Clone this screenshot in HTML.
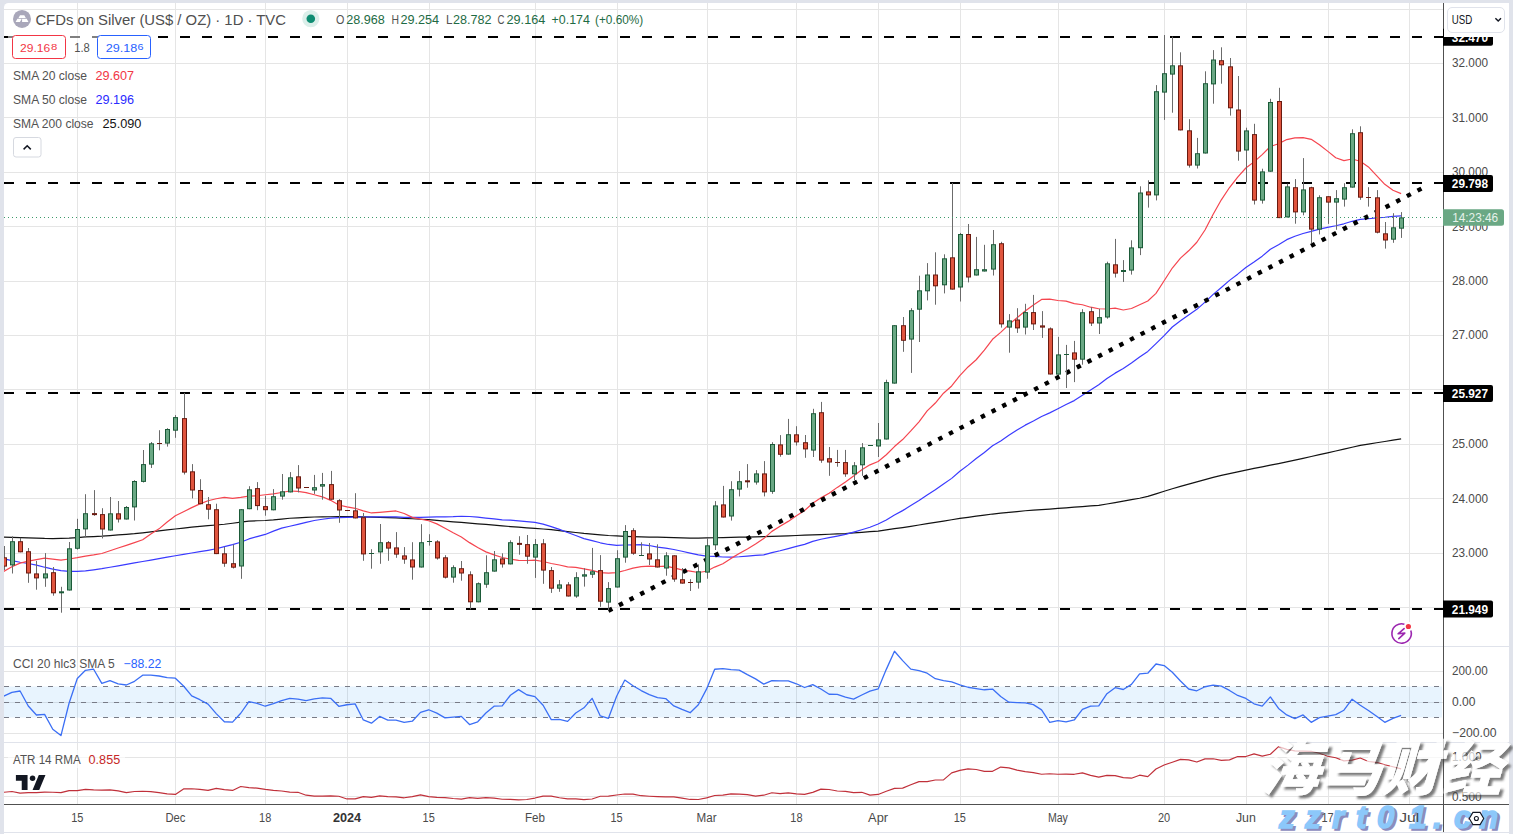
<!DOCTYPE html>
<html><head><meta charset="utf-8"><title>CFDs on Silver chart</title>
<style>html,body{margin:0;padding:0;background:#e0e3eb;}
#root{position:relative;width:1513px;height:834px;overflow:hidden;}</style></head>
<body><div id="root">
<svg width="1513" height="834" viewBox="0 0 1513 834" style="position:absolute;left:0;top:0" font-family="'Liberation Sans', Arial, sans-serif">
<defs><clipPath id="cmain"><rect x="4" y="3" width="1439" height="643"/></clipPath><clipPath id="ccci"><rect x="4" y="647" width="1439" height="95"/></clipPath><clipPath id="catr"><rect x="4" y="743" width="1439" height="61"/></clipPath><filter id="wsh" x="-20%" y="-20%" width="140%" height="140%"><feGaussianBlur in="SourceAlpha" stdDeviation="1.3"/><feOffset dx="2.5" dy="2.5" result="b"/><feFlood flood-color="#454545" flood-opacity="0.7"/><feComposite in2="b" operator="in" result="sh"/><feComposite in="sh" in2="SourceAlpha" operator="out" result="sh2"/><feColorMatrix in="SourceGraphic" type="matrix" values="1 0 0 0 0 0 1 0 0 0 0 0 1 0 0 0 0 0 0.7 0" result="src"/><feMerge><feMergeNode in="sh2"/><feMergeNode in="src"/></feMerge></filter></defs>
<rect x="0" y="0" width="1513" height="834" fill="#e0e3eb"/>
<path d="M4 832V7.5A4.5 4.5 0 0 1 8.5 3H1504.5A4.5 4.5 0 0 1 1509 7.5V832z" fill="#fff"/>
<rect x="4" y="833" width="1505" height="1" fill="#fff"/>
<g font-family="'Liberation Sans',sans-serif" font-size="31" font-weight="700" font-style="italic">
<text x="1281.5" y="830" fill="#8c8cbe" stroke="#8c8cbe" stroke-width="1.6">z</text><text x="1279" y="828" fill="#8cc8fa" stroke="#8cc8fa" stroke-width="1.6">z</text>
<text x="1307.5" y="830" fill="#8c8cbe" stroke="#8c8cbe" stroke-width="1.6">z</text><text x="1305" y="828" fill="#8cc8fa" stroke="#8cc8fa" stroke-width="1.6">z</text>
<text x="1334.5" y="830" fill="#8c8cbe" stroke="#8c8cbe" stroke-width="1.6">r</text><text x="1332" y="828" fill="#8cc8fa" stroke="#8cc8fa" stroke-width="1.6">r</text>
<text x="1358.5" y="830" fill="#8c8cbe" stroke="#8c8cbe" stroke-width="1.6">t</text><text x="1356" y="828" fill="#8cc8fa" stroke="#8cc8fa" stroke-width="1.6">t</text>
<text x="1379.5" y="830" fill="#8c8cbe" stroke="#8c8cbe" stroke-width="1.6">0</text><text x="1377" y="828" fill="#8cc8fa" stroke="#8cc8fa" stroke-width="1.6">0</text>
<text x="1411.5" y="830" fill="#8c8cbe" stroke="#8c8cbe" stroke-width="1.6">1</text><text x="1409" y="828" fill="#8cc8fa" stroke="#8cc8fa" stroke-width="1.6">1</text>
<text x="1435.5" y="830" fill="#8c8cbe" stroke="#8c8cbe" stroke-width="1.6">.</text><text x="1433" y="828" fill="#8cc8fa" stroke="#8cc8fa" stroke-width="1.6">.</text>
<text x="1456.5" y="830" fill="#8c8cbe" stroke="#8c8cbe" stroke-width="1.6">c</text><text x="1454" y="828" fill="#8cc8fa" stroke="#8cc8fa" stroke-width="1.6">c</text>
<text x="1481.5" y="830" fill="#8c8cbe" stroke="#8c8cbe" stroke-width="1.6">n</text><text x="1479" y="828" fill="#8cc8fa" stroke="#8cc8fa" stroke-width="1.6">n</text>
</g>
<rect x="77" y="3" width="1" height="801" fill="#e5e5e5"/>
<rect x="175" y="3" width="1" height="801" fill="#e5e5e5"/>
<rect x="265" y="3" width="1" height="801" fill="#e5e5e5"/>
<rect x="347" y="3" width="1" height="801" fill="#e5e5e5"/>
<rect x="429" y="3" width="1" height="801" fill="#e5e5e5"/>
<rect x="535" y="3" width="1" height="801" fill="#e5e5e5"/>
<rect x="617" y="3" width="1" height="801" fill="#e5e5e5"/>
<rect x="707" y="3" width="1" height="801" fill="#e5e5e5"/>
<rect x="796" y="3" width="1" height="801" fill="#e5e5e5"/>
<rect x="878" y="3" width="1" height="801" fill="#e5e5e5"/>
<rect x="960" y="3" width="1" height="801" fill="#e5e5e5"/>
<rect x="1058" y="3" width="1" height="801" fill="#e5e5e5"/>
<rect x="1164" y="3" width="1" height="801" fill="#e5e5e5"/>
<rect x="1246" y="3" width="1" height="801" fill="#e5e5e5"/>
<rect x="1328" y="3" width="1" height="801" fill="#e5e5e5"/>
<rect x="1409" y="3" width="1" height="801" fill="#e5e5e5"/>
<rect x="4" y="607" width="1439" height="1" fill="#e5e5e5"/>
<rect x="4" y="553" width="1439" height="1" fill="#e5e5e5"/>
<rect x="4" y="498" width="1439" height="1" fill="#e5e5e5"/>
<rect x="4" y="444" width="1439" height="1" fill="#e5e5e5"/>
<rect x="4" y="389" width="1439" height="1" fill="#e5e5e5"/>
<rect x="4" y="335" width="1439" height="1" fill="#e5e5e5"/>
<rect x="4" y="281" width="1439" height="1" fill="#e5e5e5"/>
<rect x="4" y="226" width="1439" height="1" fill="#e5e5e5"/>
<rect x="4" y="172" width="1439" height="1" fill="#e5e5e5"/>
<rect x="4" y="117" width="1439" height="1" fill="#e5e5e5"/>
<rect x="4" y="63" width="1439" height="1" fill="#e5e5e5"/>
<rect x="4" y="9" width="1439" height="1" fill="#e5e5e5"/>
<rect x="4" y="671" width="1439" height="1" fill="#e5e5e5"/>
<rect x="4" y="702" width="1439" height="1" fill="#e5e5e5"/>
<rect x="4" y="733" width="1439" height="1" fill="#e5e5e5"/>
<rect x="4" y="757" width="1439" height="1" fill="#e5e5e5"/>
<rect x="4" y="796" width="1439" height="1" fill="#e5e5e5"/>
<rect x="4" y="646" width="1505" height="1" fill="#e0e3eb"/>
<rect x="4" y="742" width="1505" height="1" fill="#e0e3eb"/>
<g clip-path="url(#cmain)">
<polyline points="3.74,537.10 11.92,537.37 20.09,537.65 28.26,537.93 36.43,538.20 44.60,538.47 52.77,538.53 60.95,538.41 69.12,538.21 77.29,537.55 85.46,536.94 93.63,536.58 101.81,536.16 109.98,535.54 118.15,534.93 126.32,534.31 134.49,533.69 142.66,532.88 150.84,531.91 159.01,530.94 167.18,529.97 175.35,529.00 183.52,528.03 191.70,527.17 199.87,526.44 208.04,525.71 216.21,524.98 224.38,524.24 232.55,523.25 240.73,522.20 248.90,521.14 257.07,520.76 265.24,520.49 273.41,519.87 281.58,519.06 289.76,518.26 297.93,517.79 306.10,517.41 314.27,517.02 322.44,516.88 330.62,516.74 338.79,516.61 346.96,516.52 355.13,516.71 363.30,516.89 371.47,517.09 379.65,517.31 387.82,517.53 395.99,517.82 404.16,518.29 412.33,518.77 420.51,519.25 428.68,519.72 436.85,520.39 445.02,521.09 453.19,521.79 461.36,522.47 469.54,523.14 477.71,523.81 485.88,524.47 494.05,525.14 502.22,525.83 510.40,526.53 518.57,527.22 526.74,527.92 534.91,528.46 543.08,528.99 551.25,529.68 559.43,530.64 567.60,531.58 575.77,532.51 583.94,533.43 592.11,534.15 600.29,534.87 608.46,535.50 616.63,535.89 624.80,536.28 632.97,536.66 641.14,536.95 649.32,537.06 657.49,537.18 665.66,537.43 673.83,537.70 682.00,537.96 690.17,538.19 698.35,538.07 706.52,537.95 714.69,537.76 722.86,537.54 731.03,537.35 739.21,537.21 747.38,537.07 755.55,536.87 763.72,536.60 771.89,536.33 780.06,536.06 788.24,535.79 796.41,535.52 804.58,535.22 812.75,534.90 820.92,534.58 829.10,534.26 837.27,533.93 845.44,533.53 853.61,532.92 861.78,532.30 869.95,531.68 878.13,531.04 886.30,529.88 894.47,528.71 902.64,527.55 910.81,526.33 918.99,525.01 927.16,523.70 935.33,522.38 943.50,521.06 951.67,519.75 959.84,518.43 968.02,517.29 976.19,516.20 984.36,515.12 992.53,514.03 1000.70,513.17 1008.88,512.36 1017.05,511.55 1025.22,510.74 1033.39,510.14 1041.56,509.58 1049.73,509.03 1057.91,508.47 1066.08,507.85 1074.25,507.21 1082.42,506.57 1090.59,505.93 1098.76,505.30 1106.94,503.99 1115.11,502.56 1123.28,501.13 1131.45,499.70 1139.62,498.27 1147.80,496.40 1155.97,493.84 1164.14,491.28 1172.31,488.72 1180.48,486.40 1188.65,484.15 1196.83,481.90 1205.00,479.65 1213.17,477.40 1221.34,475.30 1229.51,473.57 1237.69,471.84 1245.86,470.10 1254.03,468.44 1262.20,466.81 1270.37,465.19 1278.54,463.56 1286.72,461.92 1294.89,460.11 1303.06,458.31 1311.23,456.50 1319.40,454.69 1327.58,452.85 1335.75,450.99 1343.92,449.12 1352.09,447.25 1360.26,445.39 1368.43,444.08 1376.61,442.77 1384.78,441.47 1392.95,440.16 1401.12,438.90" fill="none" stroke="#131313" stroke-width="1.2" stroke-linejoin="round"/>
<polyline points="3.74,558.80 11.92,560.68 20.09,562.28 28.26,563.49 36.43,565.13 44.60,567.21 52.77,569.04 60.95,570.66 69.12,571.40 77.29,571.40 85.46,570.83 93.63,569.80 101.81,568.68 109.98,567.25 118.15,565.81 126.32,564.38 134.49,562.94 142.66,561.51 150.84,560.07 159.01,558.64 167.18,557.20 175.35,555.77 183.52,554.38 191.70,553.02 199.87,551.66 208.04,550.29 216.21,548.75 224.38,546.70 232.55,544.66 240.73,542.21 248.90,538.94 257.07,536.61 265.24,534.44 273.41,531.10 281.58,528.10 289.76,526.27 297.93,524.36 306.10,522.43 314.27,520.50 322.44,519.26 330.62,518.08 338.79,517.66 346.96,517.29 355.13,517.17 363.30,517.06 371.47,516.97 379.65,516.91 387.82,516.85 395.99,516.78 404.16,517.29 412.33,517.31 420.51,517.33 428.68,517.10 436.85,516.80 445.02,516.79 453.19,516.66 461.36,516.27 469.54,516.49 477.71,517.19 485.88,518.05 494.05,518.97 502.22,519.96 510.40,520.22 518.57,520.84 526.74,521.58 534.91,522.33 543.08,524.12 551.25,526.61 559.43,529.43 567.60,532.49 575.77,535.45 583.94,538.59 592.11,540.57 600.29,542.79 608.46,544.47 616.63,545.44 624.80,544.98 632.97,544.78 641.14,544.53 649.32,545.53 657.49,547.10 665.66,548.08 673.83,549.47 682.00,551.22 690.17,553.04 698.35,554.92 706.52,556.06 714.69,556.41 722.86,557.02 731.03,557.12 739.21,556.75 747.38,556.17 755.55,555.43 763.72,554.91 771.89,552.70 780.06,550.74 788.24,548.58 796.41,546.45 804.58,544.35 812.75,541.42 820.92,539.28 829.10,537.69 837.27,536.12 845.44,534.44 853.61,532.19 861.78,529.79 869.95,527.22 878.13,523.96 886.30,519.94 894.47,515.00 902.64,510.63 910.81,505.55 918.99,500.51 927.16,495.11 935.33,489.70 943.50,483.99 951.67,478.37 959.84,471.27 968.02,465.13 976.19,458.59 984.36,452.43 992.53,445.83 1000.70,440.89 1008.88,435.26 1017.05,430.07 1025.22,425.15 1033.39,421.01 1041.56,416.49 1049.73,412.88 1057.91,408.78 1066.08,404.51 1074.25,400.60 1082.42,395.25 1090.59,390.05 1098.76,384.74 1106.94,378.58 1115.11,373.14 1123.28,368.44 1131.45,363.04 1139.62,357.11 1147.80,351.39 1155.97,343.58 1164.14,335.58 1172.31,327.03 1180.48,320.76 1188.65,314.98 1196.83,309.36 1205.00,302.17 1213.17,294.38 1221.34,287.42 1229.51,280.37 1237.69,274.15 1245.86,267.51 1254.03,262.03 1262.20,256.16 1270.37,249.25 1278.54,244.71 1286.72,239.65 1294.89,236.26 1303.06,233.54 1311.23,231.32 1319.40,229.06 1327.58,227.30 1335.75,225.78 1343.92,223.80 1352.09,221.29 1360.26,219.46 1368.43,218.73 1376.61,217.83 1384.78,217.26 1392.95,216.42 1401.12,215.89" fill="none" stroke="#3a3aff" stroke-width="1.2" stroke-linejoin="round"/>
<polyline points="3.74,571.40 11.92,566.66 20.09,563.14 28.26,561.11 36.43,559.61 44.60,558.21 52.77,559.12 60.95,560.04 69.12,559.02 77.29,557.64 85.46,556.07 93.63,554.95 101.81,553.50 109.98,550.77 118.15,548.04 126.32,545.31 134.49,542.58 142.66,539.78 150.84,533.95 159.01,528.85 167.18,521.97 175.35,515.76 183.52,511.77 191.70,507.62 199.87,503.92 208.04,500.73 216.21,498.77 224.38,497.39 232.55,498.36 240.73,497.37 248.90,496.17 257.07,495.73 265.24,494.77 273.41,493.92 281.58,492.50 289.76,491.02 297.93,491.40 306.10,492.59 314.27,494.78 322.44,496.80 330.62,500.33 338.79,505.00 346.96,506.90 355.13,508.29 363.30,510.81 371.47,512.97 379.65,512.38 387.82,511.62 395.99,510.96 404.16,513.48 412.33,517.39 420.51,519.20 428.68,520.74 436.85,523.86 445.02,528.18 453.19,532.67 461.36,536.92 469.54,542.64 477.71,547.44 485.88,551.85 494.05,554.83 502.22,557.52 510.40,559.11 518.57,560.41 526.74,560.52 534.91,560.08 543.08,561.50 551.25,563.50 559.43,565.00 567.60,566.84 575.77,567.33 583.94,568.93 592.11,570.44 600.29,572.60 608.46,573.12 616.63,572.67 624.80,570.54 632.97,568.11 641.14,566.71 649.32,566.08 657.49,566.49 665.66,566.04 673.83,567.90 682.00,569.86 690.17,571.15 698.35,572.52 706.52,571.25 714.69,567.09 722.86,563.74 731.03,558.38 739.21,553.57 747.38,548.95 755.55,544.05 763.72,538.59 771.89,531.38 780.06,526.21 788.24,521.38 796.41,515.81 804.58,510.52 812.75,503.20 820.92,497.86 829.10,493.22 837.27,487.38 845.44,481.91 853.61,476.04 861.78,469.84 869.95,464.83 878.13,461.53 886.30,454.76 894.47,446.56 902.64,439.54 910.81,430.96 918.99,421.80 927.16,410.91 935.33,403.03 943.50,393.20 951.67,385.97 959.84,375.55 968.02,366.95 976.19,359.76 984.36,350.19 992.53,339.27 1000.70,332.35 1008.88,324.66 1017.05,317.82 1025.22,311.05 1033.39,305.02 1041.56,299.44 1049.73,299.05 1057.91,300.52 1066.08,301.19 1074.25,303.66 1082.42,304.76 1090.59,307.20 1098.76,308.75 1106.94,308.99 1115.11,308.20 1123.28,310.02 1131.45,308.51 1139.62,304.67 1147.80,300.98 1155.97,293.34 1164.14,280.77 1172.31,268.02 1180.48,258.12 1188.65,250.80 1196.83,242.24 1205.00,230.02 1213.17,214.26 1221.34,199.81 1229.51,187.52 1237.69,177.11 1245.86,168.02 1254.03,161.88 1262.20,154.59 1270.37,146.52 1278.54,143.75 1286.72,139.55 1294.89,137.80 1303.06,137.65 1311.23,139.36 1319.40,144.66 1327.58,151.12 1335.75,157.77 1343.92,160.61 1352.09,158.99 1360.26,161.22 1368.43,166.94 1376.61,175.60 1384.78,184.36 1392.95,190.31 1401.12,193.60" fill="none" stroke="#f5454f" stroke-width="1.2" stroke-linejoin="round"/>
<line x1="4" y1="37" x2="1443" y2="37" stroke="#000" stroke-width="2" stroke-dasharray="10 12"/>
<line x1="4" y1="183" x2="1443" y2="183" stroke="#000" stroke-width="2" stroke-dasharray="10 12"/>
<line x1="4" y1="393" x2="1443" y2="393" stroke="#000" stroke-width="2" stroke-dasharray="10 12"/>
<line x1="4" y1="609" x2="1443" y2="609" stroke="#000" stroke-width="2" stroke-dasharray="10 12"/>
<line x1="608.35" y1="610.81" x2="1421.45" y2="188.59" stroke="#000" stroke-width="4.4" stroke-dasharray="4.4 7.597"/>
<rect x="4" y="546.0" width="1" height="24.0" fill="#6b6b6b"/>
<rect x="2" y="557.3" width="5" height="9.3" fill="#6a1a10"/>
<rect x="3" y="558.3" width="3" height="7.3" fill="#e0553e"/>
<rect x="12" y="536.3" width="1" height="37.2" fill="#6b6b6b"/>
<rect x="10" y="541.2" width="5" height="24.2" fill="#1b5a38"/>
<rect x="11" y="542.2" width="3" height="22.2" fill="#6aa884"/>
<rect x="20" y="537.8" width="1" height="14.5" fill="#6b6b6b"/>
<rect x="18" y="541.2" width="5" height="11.1" fill="#6a1a10"/>
<rect x="19" y="542.2" width="3" height="9.1" fill="#e0553e"/>
<rect x="28" y="548.0" width="1" height="34.8" fill="#6b6b6b"/>
<rect x="26" y="551.2" width="5" height="22.3" fill="#6a1a10"/>
<rect x="27" y="552.2" width="3" height="20.3" fill="#e0553e"/>
<rect x="36" y="560.9" width="1" height="28.8" fill="#6b6b6b"/>
<rect x="34" y="573.4" width="5" height="5.0" fill="#6a1a10"/>
<rect x="35" y="574.4" width="3" height="3.0" fill="#e0553e"/>
<rect x="45" y="553.1" width="1" height="33.7" fill="#6b6b6b"/>
<rect x="43" y="573.4" width="5" height="5.0" fill="#1b5a38"/>
<rect x="44" y="574.4" width="3" height="3.0" fill="#6aa884"/>
<rect x="53" y="567.0" width="1" height="28.7" fill="#6b6b6b"/>
<rect x="51" y="572.2" width="5" height="21.1" fill="#6a1a10"/>
<rect x="52" y="573.2" width="3" height="19.1" fill="#e0553e"/>
<rect x="61" y="586.8" width="1" height="25.9" fill="#6b6b6b"/>
<rect x="59" y="591.3" width="5" height="2" fill="#1b5a38"/>
<rect x="69" y="542.0" width="1" height="48.5" fill="#6b6b6b"/>
<rect x="67" y="548.3" width="5" height="42.2" fill="#1b5a38"/>
<rect x="68" y="549.3" width="3" height="40.2" fill="#6aa884"/>
<rect x="77" y="518.8" width="1" height="30.8" fill="#6b6b6b"/>
<rect x="75" y="529.0" width="5" height="19.8" fill="#1b5a38"/>
<rect x="76" y="530.0" width="3" height="17.8" fill="#6aa884"/>
<rect x="85" y="494.2" width="1" height="43.2" fill="#6b6b6b"/>
<rect x="83" y="513.2" width="5" height="16.2" fill="#1b5a38"/>
<rect x="84" y="514.2" width="3" height="14.2" fill="#6aa884"/>
<rect x="94" y="490.1" width="1" height="25.7" fill="#6b6b6b"/>
<rect x="92" y="513.1" width="5" height="2" fill="#6a1a10"/>
<rect x="102" y="508.2" width="1" height="30.2" fill="#6b6b6b"/>
<rect x="100" y="514.1" width="5" height="15.4" fill="#6a1a10"/>
<rect x="101" y="515.1" width="3" height="13.4" fill="#e0553e"/>
<rect x="110" y="497.0" width="1" height="33.5" fill="#6b6b6b"/>
<rect x="108" y="513.3" width="5" height="17.2" fill="#1b5a38"/>
<rect x="109" y="514.3" width="3" height="15.2" fill="#6aa884"/>
<rect x="118" y="501.0" width="1" height="21.5" fill="#6b6b6b"/>
<rect x="116" y="513.3" width="5" height="6.2" fill="#6a1a10"/>
<rect x="117" y="514.3" width="3" height="4.2" fill="#e0553e"/>
<rect x="126" y="506.0" width="1" height="13.5" fill="#6b6b6b"/>
<rect x="124" y="507.0" width="5" height="12.5" fill="#1b5a38"/>
<rect x="125" y="508.0" width="3" height="10.5" fill="#6aa884"/>
<rect x="134" y="480.2" width="1" height="40.3" fill="#6b6b6b"/>
<rect x="132" y="481.0" width="5" height="26.4" fill="#1b5a38"/>
<rect x="133" y="482.0" width="3" height="24.4" fill="#6aa884"/>
<rect x="143" y="450.0" width="1" height="32.5" fill="#6b6b6b"/>
<rect x="141" y="464.1" width="5" height="17.8" fill="#1b5a38"/>
<rect x="142" y="465.1" width="3" height="15.8" fill="#6aa884"/>
<rect x="151" y="442.0" width="1" height="26.0" fill="#6b6b6b"/>
<rect x="149" y="443.3" width="5" height="21.3" fill="#1b5a38"/>
<rect x="150" y="444.3" width="3" height="19.3" fill="#6aa884"/>
<rect x="159" y="430.2" width="1" height="20.1" fill="#6b6b6b"/>
<rect x="157" y="443" width="5" height="1" fill="#6a1a10"/>
<rect x="167" y="428.2" width="1" height="18.4" fill="#6b6b6b"/>
<rect x="165" y="429.0" width="5" height="14.6" fill="#1b5a38"/>
<rect x="166" y="430.0" width="3" height="12.6" fill="#6aa884"/>
<rect x="175" y="415.1" width="1" height="22.7" fill="#6b6b6b"/>
<rect x="173" y="417.1" width="5" height="13.6" fill="#1b5a38"/>
<rect x="174" y="418.1" width="3" height="11.6" fill="#6aa884"/>
<rect x="184" y="392.9" width="1" height="81.6" fill="#6b6b6b"/>
<rect x="182" y="418.1" width="5" height="54.5" fill="#6a1a10"/>
<rect x="183" y="419.1" width="3" height="52.5" fill="#e0553e"/>
<rect x="192" y="464.1" width="1" height="34.3" fill="#6b6b6b"/>
<rect x="190" y="471.3" width="5" height="19.2" fill="#6a1a10"/>
<rect x="191" y="472.3" width="3" height="17.2" fill="#e0553e"/>
<rect x="200" y="479.2" width="1" height="25.0" fill="#6b6b6b"/>
<rect x="198" y="490.0" width="5" height="14.2" fill="#6a1a10"/>
<rect x="199" y="491.0" width="3" height="12.2" fill="#e0553e"/>
<rect x="208" y="497.0" width="1" height="22.3" fill="#6b6b6b"/>
<rect x="206" y="504.2" width="5" height="5.5" fill="#6a1a10"/>
<rect x="207" y="505.2" width="3" height="3.5" fill="#e0553e"/>
<rect x="216" y="503.7" width="1" height="50.4" fill="#6b6b6b"/>
<rect x="214" y="509.2" width="5" height="44.9" fill="#6a1a10"/>
<rect x="215" y="510.2" width="3" height="42.9" fill="#e0553e"/>
<rect x="224" y="546.9" width="1" height="19.9" fill="#6b6b6b"/>
<rect x="222" y="553.3" width="5" height="10.4" fill="#6a1a10"/>
<rect x="223" y="554.3" width="3" height="8.4" fill="#e0553e"/>
<rect x="233" y="544.5" width="1" height="24.0" fill="#6b6b6b"/>
<rect x="231" y="563.2" width="5" height="4.5" fill="#6a1a10"/>
<rect x="232" y="564.2" width="3" height="2.5" fill="#e0553e"/>
<rect x="241" y="509.2" width="1" height="69.6" fill="#6b6b6b"/>
<rect x="239" y="509.2" width="5" height="57.3" fill="#1b5a38"/>
<rect x="240" y="510.2" width="3" height="55.3" fill="#6aa884"/>
<rect x="249" y="486.2" width="1" height="23.0" fill="#6b6b6b"/>
<rect x="247" y="489.3" width="5" height="19.9" fill="#1b5a38"/>
<rect x="248" y="490.3" width="3" height="17.9" fill="#6aa884"/>
<rect x="257" y="482.1" width="1" height="28.1" fill="#6b6b6b"/>
<rect x="255" y="488.1" width="5" height="18.0" fill="#6a1a10"/>
<rect x="256" y="489.1" width="3" height="16.0" fill="#e0553e"/>
<rect x="265" y="495.8" width="1" height="19.9" fill="#6b6b6b"/>
<rect x="263" y="506.1" width="5" height="4.1" fill="#6a1a10"/>
<rect x="264" y="507.1" width="3" height="2.1" fill="#e0553e"/>
<rect x="273" y="489.1" width="1" height="21.2" fill="#6b6b6b"/>
<rect x="271" y="496.2" width="5" height="14.1" fill="#1b5a38"/>
<rect x="272" y="497.2" width="3" height="12.1" fill="#6aa884"/>
<rect x="282" y="474.0" width="1" height="25.7" fill="#6b6b6b"/>
<rect x="280" y="491.3" width="5" height="5.3" fill="#1b5a38"/>
<rect x="281" y="492.3" width="3" height="3.3" fill="#6aa884"/>
<rect x="290" y="472.1" width="1" height="20.3" fill="#6b6b6b"/>
<rect x="288" y="477.3" width="5" height="15.1" fill="#1b5a38"/>
<rect x="289" y="478.3" width="3" height="13.1" fill="#6aa884"/>
<rect x="298" y="465.1" width="1" height="27.3" fill="#6b6b6b"/>
<rect x="296" y="476.3" width="5" height="12.2" fill="#6a1a10"/>
<rect x="297" y="477.3" width="3" height="10.2" fill="#e0553e"/>
<rect x="306" y="487.2" width="1" height="0.7" fill="#6b6b6b"/>
<rect x="304" y="487" width="5" height="1" fill="#6a1a10"/>
<rect x="314" y="474.9" width="1" height="19.0" fill="#6b6b6b"/>
<rect x="312" y="487.2" width="5" height="3.3" fill="#1b5a38"/>
<rect x="313" y="488.2" width="3" height="1.3" fill="#6aa884"/>
<rect x="322" y="472.9" width="1" height="26.8" fill="#6b6b6b"/>
<rect x="320" y="484.1" width="5" height="2.5" fill="#1b5a38"/>
<rect x="321" y="485.1" width="3" height="0.5" fill="#6aa884"/>
<rect x="331" y="470.9" width="1" height="28.8" fill="#6b6b6b"/>
<rect x="329" y="484.1" width="5" height="15.6" fill="#6a1a10"/>
<rect x="330" y="485.1" width="3" height="13.6" fill="#e0553e"/>
<rect x="339" y="499.1" width="1" height="23.7" fill="#6b6b6b"/>
<rect x="337" y="500.2" width="5" height="10.3" fill="#6a1a10"/>
<rect x="338" y="501.2" width="3" height="8.3" fill="#e0553e"/>
<rect x="347" y="510.0" width="1" height="0.6" fill="#6b6b6b"/>
<rect x="345" y="510" width="5" height="1" fill="#6a1a10"/>
<rect x="355" y="493.2" width="1" height="25.2" fill="#6b6b6b"/>
<rect x="353" y="510.3" width="5" height="8.1" fill="#6a1a10"/>
<rect x="354" y="511.3" width="3" height="6.1" fill="#e0553e"/>
<rect x="363" y="513.0" width="1" height="47.8" fill="#6b6b6b"/>
<rect x="361" y="517.2" width="5" height="37.2" fill="#6a1a10"/>
<rect x="362" y="518.2" width="3" height="35.2" fill="#e0553e"/>
<rect x="371" y="549.2" width="1" height="19.5" fill="#6b6b6b"/>
<rect x="369" y="553" width="5" height="1" fill="#1b5a38"/>
<rect x="380" y="524.0" width="1" height="39.8" fill="#6b6b6b"/>
<rect x="378" y="542.2" width="5" height="10.2" fill="#1b5a38"/>
<rect x="379" y="543.2" width="3" height="8.2" fill="#6aa884"/>
<rect x="388" y="541.0" width="1" height="19.8" fill="#6b6b6b"/>
<rect x="386" y="542.2" width="5" height="6.4" fill="#6a1a10"/>
<rect x="387" y="543.2" width="3" height="4.4" fill="#e0553e"/>
<rect x="396" y="532.1" width="1" height="25.7" fill="#6b6b6b"/>
<rect x="394" y="547.4" width="5" height="7.2" fill="#6a1a10"/>
<rect x="395" y="548.4" width="3" height="5.2" fill="#e0553e"/>
<rect x="404" y="547.1" width="1" height="16.7" fill="#6b6b6b"/>
<rect x="402" y="555.4" width="5" height="4.2" fill="#6a1a10"/>
<rect x="403" y="556.4" width="3" height="2.2" fill="#e0553e"/>
<rect x="412" y="542.2" width="1" height="37.5" fill="#6b6b6b"/>
<rect x="410" y="559.4" width="5" height="8.1" fill="#6a1a10"/>
<rect x="411" y="560.4" width="3" height="6.1" fill="#e0553e"/>
<rect x="421" y="524.2" width="1" height="43.3" fill="#6b6b6b"/>
<rect x="419" y="542.2" width="5" height="25.3" fill="#1b5a38"/>
<rect x="420" y="543.2" width="3" height="23.3" fill="#6aa884"/>
<rect x="429" y="534.2" width="1" height="11.4" fill="#6b6b6b"/>
<rect x="427" y="541" width="5" height="1" fill="#1b5a38"/>
<rect x="437" y="540.2" width="1" height="19.4" fill="#6b6b6b"/>
<rect x="435" y="541.4" width="5" height="17.1" fill="#6a1a10"/>
<rect x="436" y="542.4" width="3" height="15.1" fill="#e0553e"/>
<rect x="445" y="555.2" width="1" height="23.3" fill="#6b6b6b"/>
<rect x="443" y="557.3" width="5" height="20.4" fill="#6a1a10"/>
<rect x="444" y="558.3" width="3" height="18.4" fill="#e0553e"/>
<rect x="453" y="565.3" width="1" height="17.4" fill="#6b6b6b"/>
<rect x="451" y="567.2" width="5" height="10.4" fill="#1b5a38"/>
<rect x="452" y="568.2" width="3" height="8.4" fill="#6aa884"/>
<rect x="461" y="561.0" width="1" height="19.7" fill="#6b6b6b"/>
<rect x="459" y="568.2" width="5" height="5.3" fill="#6a1a10"/>
<rect x="460" y="569.2" width="3" height="3.3" fill="#e0553e"/>
<rect x="470" y="571.3" width="1" height="38.1" fill="#6b6b6b"/>
<rect x="468" y="574.3" width="5" height="28.0" fill="#6a1a10"/>
<rect x="469" y="575.3" width="3" height="26.0" fill="#e0553e"/>
<rect x="478" y="582.4" width="1" height="19.9" fill="#6b6b6b"/>
<rect x="476" y="583.2" width="5" height="19.1" fill="#1b5a38"/>
<rect x="477" y="584.2" width="3" height="17.1" fill="#6aa884"/>
<rect x="486" y="555.3" width="1" height="32.5" fill="#6b6b6b"/>
<rect x="484" y="572.2" width="5" height="12.5" fill="#1b5a38"/>
<rect x="485" y="573.2" width="3" height="10.5" fill="#6aa884"/>
<rect x="494" y="551.0" width="1" height="20.6" fill="#6b6b6b"/>
<rect x="492" y="559.3" width="5" height="12.3" fill="#1b5a38"/>
<rect x="493" y="560.3" width="3" height="10.3" fill="#6aa884"/>
<rect x="502" y="553.3" width="1" height="14.3" fill="#6b6b6b"/>
<rect x="500" y="558.4" width="5" height="6.0" fill="#6a1a10"/>
<rect x="501" y="559.4" width="3" height="4.0" fill="#e0553e"/>
<rect x="510" y="540.3" width="1" height="24.1" fill="#6b6b6b"/>
<rect x="508" y="542.2" width="5" height="22.2" fill="#1b5a38"/>
<rect x="509" y="543.2" width="3" height="20.2" fill="#6aa884"/>
<rect x="519" y="536.2" width="1" height="18.5" fill="#6b6b6b"/>
<rect x="517" y="542.9" width="5" height="2" fill="#6a1a10"/>
<rect x="527" y="535.0" width="1" height="28.8" fill="#6b6b6b"/>
<rect x="525" y="544.1" width="5" height="12.6" fill="#6a1a10"/>
<rect x="526" y="545.1" width="3" height="10.6" fill="#e0553e"/>
<rect x="535" y="539.1" width="1" height="38.8" fill="#6b6b6b"/>
<rect x="533" y="544.1" width="5" height="13.5" fill="#1b5a38"/>
<rect x="534" y="545.1" width="3" height="11.5" fill="#6aa884"/>
<rect x="543" y="539.1" width="1" height="44.7" fill="#6b6b6b"/>
<rect x="541" y="543.3" width="5" height="27.3" fill="#6a1a10"/>
<rect x="542" y="544.3" width="3" height="25.3" fill="#e0553e"/>
<rect x="551" y="567.0" width="1" height="25.9" fill="#6b6b6b"/>
<rect x="549" y="570.1" width="5" height="18.6" fill="#6a1a10"/>
<rect x="550" y="571.1" width="3" height="16.6" fill="#e0553e"/>
<rect x="559" y="580.0" width="1" height="11.8" fill="#6b6b6b"/>
<rect x="557" y="584.4" width="5" height="4.3" fill="#1b5a38"/>
<rect x="558" y="585.4" width="3" height="2.3" fill="#6aa884"/>
<rect x="568" y="582.1" width="1" height="14.4" fill="#6b6b6b"/>
<rect x="566" y="584.4" width="5" height="12.1" fill="#6a1a10"/>
<rect x="567" y="585.4" width="3" height="10.1" fill="#e0553e"/>
<rect x="576" y="572.2" width="1" height="25.6" fill="#6b6b6b"/>
<rect x="574" y="577.2" width="5" height="19.3" fill="#1b5a38"/>
<rect x="575" y="578.2" width="3" height="17.3" fill="#6aa884"/>
<rect x="584" y="568.2" width="1" height="18.4" fill="#6b6b6b"/>
<rect x="582" y="574.3" width="5" height="2.3" fill="#1b5a38"/>
<rect x="583" y="575.3" width="3" height="0.3" fill="#6aa884"/>
<rect x="592" y="547.9" width="1" height="30.0" fill="#6b6b6b"/>
<rect x="590" y="571.3" width="5" height="3.4" fill="#1b5a38"/>
<rect x="591" y="572.3" width="3" height="1.4" fill="#6aa884"/>
<rect x="600" y="555.1" width="1" height="51.7" fill="#6b6b6b"/>
<rect x="598" y="570.1" width="5" height="31.6" fill="#6a1a10"/>
<rect x="599" y="571.1" width="3" height="29.6" fill="#e0553e"/>
<rect x="608" y="582.1" width="1" height="27.9" fill="#6b6b6b"/>
<rect x="606" y="588.1" width="5" height="14.5" fill="#1b5a38"/>
<rect x="607" y="589.1" width="3" height="12.5" fill="#6aa884"/>
<rect x="617" y="550.2" width="1" height="37.3" fill="#6b6b6b"/>
<rect x="615" y="558.2" width="5" height="29.3" fill="#1b5a38"/>
<rect x="616" y="559.2" width="3" height="27.3" fill="#6aa884"/>
<rect x="625" y="525.1" width="1" height="37.6" fill="#6b6b6b"/>
<rect x="623" y="531.0" width="5" height="26.6" fill="#1b5a38"/>
<rect x="624" y="532.0" width="3" height="24.6" fill="#6aa884"/>
<rect x="633" y="528.2" width="1" height="26.6" fill="#6b6b6b"/>
<rect x="631" y="530.2" width="5" height="23.5" fill="#6a1a10"/>
<rect x="632" y="531.2" width="3" height="21.5" fill="#e0553e"/>
<rect x="641" y="542.3" width="1" height="13.5" fill="#6b6b6b"/>
<rect x="639" y="555" width="5" height="1" fill="#1b5a38"/>
<rect x="649" y="543.0" width="1" height="22.0" fill="#6b6b6b"/>
<rect x="647" y="553.4" width="5" height="6.1" fill="#6a1a10"/>
<rect x="648" y="554.4" width="3" height="4.1" fill="#e0553e"/>
<rect x="657" y="544.3" width="1" height="23.2" fill="#6b6b6b"/>
<rect x="655" y="559.3" width="5" height="8.2" fill="#6a1a10"/>
<rect x="656" y="560.3" width="3" height="6.2" fill="#e0553e"/>
<rect x="666" y="552.2" width="1" height="23.5" fill="#6b6b6b"/>
<rect x="664" y="555.3" width="5" height="13.2" fill="#1b5a38"/>
<rect x="665" y="556.3" width="3" height="11.2" fill="#6aa884"/>
<rect x="674" y="555.3" width="1" height="26.5" fill="#6b6b6b"/>
<rect x="672" y="555.3" width="5" height="24.2" fill="#6a1a10"/>
<rect x="673" y="556.3" width="3" height="22.2" fill="#e0553e"/>
<rect x="682" y="568.0" width="1" height="15.6" fill="#6b6b6b"/>
<rect x="680" y="579.2" width="5" height="4.4" fill="#6a1a10"/>
<rect x="681" y="580.2" width="3" height="2.4" fill="#e0553e"/>
<rect x="690" y="579.2" width="1" height="11.8" fill="#6b6b6b"/>
<rect x="688" y="582" width="5" height="1" fill="#6a1a10"/>
<rect x="698" y="564.4" width="1" height="24.2" fill="#6b6b6b"/>
<rect x="696" y="571.3" width="5" height="11.3" fill="#1b5a38"/>
<rect x="697" y="572.3" width="3" height="9.3" fill="#6aa884"/>
<rect x="707" y="538.2" width="1" height="40.5" fill="#6b6b6b"/>
<rect x="705" y="545.3" width="5" height="27.3" fill="#1b5a38"/>
<rect x="706" y="546.3" width="3" height="25.3" fill="#6aa884"/>
<rect x="715" y="501.1" width="1" height="48.9" fill="#6b6b6b"/>
<rect x="713" y="505.4" width="5" height="39.9" fill="#1b5a38"/>
<rect x="714" y="506.4" width="3" height="37.9" fill="#6aa884"/>
<rect x="723" y="485.9" width="1" height="31.6" fill="#6b6b6b"/>
<rect x="721" y="504.4" width="5" height="13.1" fill="#6a1a10"/>
<rect x="722" y="505.4" width="3" height="11.1" fill="#e0553e"/>
<rect x="731" y="481.2" width="1" height="39.4" fill="#6b6b6b"/>
<rect x="729" y="489.2" width="5" height="27.3" fill="#1b5a38"/>
<rect x="730" y="490.2" width="3" height="25.3" fill="#6aa884"/>
<rect x="739" y="471.0" width="1" height="25.4" fill="#6b6b6b"/>
<rect x="737" y="481.2" width="5" height="8.4" fill="#1b5a38"/>
<rect x="738" y="482.2" width="3" height="6.4" fill="#6aa884"/>
<rect x="747" y="464.1" width="1" height="23.6" fill="#6b6b6b"/>
<rect x="745" y="480.3" width="5" height="2" fill="#6a1a10"/>
<rect x="756" y="470.1" width="1" height="14.5" fill="#6b6b6b"/>
<rect x="754" y="473.4" width="5" height="9.1" fill="#1b5a38"/>
<rect x="755" y="474.4" width="3" height="7.1" fill="#6aa884"/>
<rect x="764" y="461.1" width="1" height="35.3" fill="#6b6b6b"/>
<rect x="762" y="473.4" width="5" height="19.0" fill="#6a1a10"/>
<rect x="763" y="474.4" width="3" height="17.0" fill="#e0553e"/>
<rect x="772" y="442.2" width="1" height="51.6" fill="#6b6b6b"/>
<rect x="770" y="444.0" width="5" height="47.8" fill="#1b5a38"/>
<rect x="771" y="445.0" width="3" height="45.8" fill="#6aa884"/>
<rect x="780" y="435.1" width="1" height="21.6" fill="#6b6b6b"/>
<rect x="778" y="444.4" width="5" height="10.4" fill="#6a1a10"/>
<rect x="779" y="445.4" width="3" height="8.4" fill="#e0553e"/>
<rect x="788" y="418.9" width="1" height="35.7" fill="#6b6b6b"/>
<rect x="786" y="434.2" width="5" height="20.4" fill="#1b5a38"/>
<rect x="787" y="435.2" width="3" height="18.4" fill="#6aa884"/>
<rect x="796" y="426.2" width="1" height="19.3" fill="#6b6b6b"/>
<rect x="794" y="434.3" width="5" height="8.1" fill="#6a1a10"/>
<rect x="795" y="435.3" width="3" height="6.1" fill="#e0553e"/>
<rect x="805" y="435.0" width="1" height="22.8" fill="#6b6b6b"/>
<rect x="803" y="442.2" width="5" height="7.2" fill="#6a1a10"/>
<rect x="804" y="443.2" width="3" height="5.2" fill="#e0553e"/>
<rect x="813" y="408.8" width="1" height="48.2" fill="#6b6b6b"/>
<rect x="811" y="413.2" width="5" height="37.4" fill="#1b5a38"/>
<rect x="812" y="414.2" width="3" height="35.4" fill="#6aa884"/>
<rect x="821" y="401.9" width="1" height="60.9" fill="#6b6b6b"/>
<rect x="819" y="412.2" width="5" height="48.4" fill="#6a1a10"/>
<rect x="820" y="413.2" width="3" height="46.4" fill="#e0553e"/>
<rect x="829" y="447.0" width="1" height="28.8" fill="#6b6b6b"/>
<rect x="827" y="458.2" width="5" height="4.3" fill="#6a1a10"/>
<rect x="828" y="459.2" width="3" height="2.3" fill="#e0553e"/>
<rect x="837" y="449.9" width="1" height="16.8" fill="#6b6b6b"/>
<rect x="835" y="462" width="5" height="1" fill="#6a1a10"/>
<rect x="845" y="449.9" width="1" height="26.9" fill="#6b6b6b"/>
<rect x="843" y="462.1" width="5" height="12.2" fill="#6a1a10"/>
<rect x="844" y="463.1" width="3" height="10.2" fill="#e0553e"/>
<rect x="854" y="462.1" width="1" height="18.0" fill="#6b6b6b"/>
<rect x="852" y="465.3" width="5" height="9.0" fill="#1b5a38"/>
<rect x="853" y="466.3" width="3" height="7.0" fill="#6aa884"/>
<rect x="862" y="443.1" width="1" height="32.7" fill="#6b6b6b"/>
<rect x="860" y="447.3" width="5" height="18.0" fill="#1b5a38"/>
<rect x="861" y="448.3" width="3" height="16.0" fill="#6aa884"/>
<rect x="870" y="445.0" width="1" height="0.7" fill="#6b6b6b"/>
<rect x="868" y="445" width="5" height="1" fill="#1b5a38"/>
<rect x="878" y="423.0" width="1" height="34.0" fill="#6b6b6b"/>
<rect x="876" y="439.4" width="5" height="7.1" fill="#1b5a38"/>
<rect x="877" y="440.4" width="3" height="5.1" fill="#6aa884"/>
<rect x="886" y="379.7" width="1" height="59.8" fill="#6b6b6b"/>
<rect x="884" y="382.1" width="5" height="57.4" fill="#1b5a38"/>
<rect x="885" y="383.1" width="3" height="55.4" fill="#6aa884"/>
<rect x="894" y="325.2" width="1" height="58.4" fill="#6b6b6b"/>
<rect x="892" y="325.2" width="5" height="58.4" fill="#1b5a38"/>
<rect x="893" y="326.2" width="3" height="56.4" fill="#6aa884"/>
<rect x="903" y="317.0" width="1" height="34.8" fill="#6b6b6b"/>
<rect x="901" y="325.2" width="5" height="15.6" fill="#6a1a10"/>
<rect x="902" y="326.2" width="3" height="13.6" fill="#e0553e"/>
<rect x="911" y="308.2" width="1" height="64.7" fill="#6b6b6b"/>
<rect x="909" y="310.2" width="5" height="29.4" fill="#1b5a38"/>
<rect x="910" y="311.2" width="3" height="27.4" fill="#6aa884"/>
<rect x="919" y="275.7" width="1" height="66.3" fill="#6b6b6b"/>
<rect x="917" y="290.3" width="5" height="19.4" fill="#1b5a38"/>
<rect x="918" y="291.3" width="3" height="17.4" fill="#6aa884"/>
<rect x="927" y="263.1" width="1" height="37.3" fill="#6b6b6b"/>
<rect x="925" y="274.5" width="5" height="16.8" fill="#1b5a38"/>
<rect x="926" y="275.5" width="3" height="14.8" fill="#6aa884"/>
<rect x="935" y="252.3" width="1" height="52.4" fill="#6b6b6b"/>
<rect x="933" y="274.5" width="5" height="11.8" fill="#6a1a10"/>
<rect x="934" y="275.5" width="3" height="9.8" fill="#e0553e"/>
<rect x="944" y="254.3" width="1" height="39.1" fill="#6b6b6b"/>
<rect x="942" y="258.3" width="5" height="27.0" fill="#1b5a38"/>
<rect x="943" y="259.3" width="3" height="25.0" fill="#6aa884"/>
<rect x="952" y="183.0" width="1" height="106.6" fill="#6b6b6b"/>
<rect x="950" y="257.3" width="5" height="32.3" fill="#6a1a10"/>
<rect x="951" y="258.3" width="3" height="30.3" fill="#e0553e"/>
<rect x="960" y="232.9" width="1" height="68.6" fill="#6b6b6b"/>
<rect x="958" y="234.0" width="5" height="53.5" fill="#1b5a38"/>
<rect x="959" y="235.0" width="3" height="51.5" fill="#6aa884"/>
<rect x="968" y="224.0" width="1" height="58.4" fill="#6b6b6b"/>
<rect x="966" y="234.0" width="5" height="43.5" fill="#6a1a10"/>
<rect x="967" y="235.0" width="3" height="41.5" fill="#e0553e"/>
<rect x="976" y="236.9" width="1" height="38.6" fill="#6b6b6b"/>
<rect x="974" y="269.2" width="5" height="6.3" fill="#1b5a38"/>
<rect x="975" y="270.2" width="3" height="4.3" fill="#6aa884"/>
<rect x="984" y="244.8" width="1" height="26.7" fill="#6b6b6b"/>
<rect x="982" y="269.2" width="5" height="2.3" fill="#1b5a38"/>
<rect x="983" y="270.2" width="3" height="0.3" fill="#6aa884"/>
<rect x="993" y="230.0" width="1" height="45.5" fill="#6b6b6b"/>
<rect x="991" y="244.2" width="5" height="25.4" fill="#1b5a38"/>
<rect x="992" y="245.2" width="3" height="23.4" fill="#6aa884"/>
<rect x="1001" y="241.8" width="1" height="85.8" fill="#6b6b6b"/>
<rect x="999" y="243.2" width="5" height="81.2" fill="#6a1a10"/>
<rect x="1000" y="244.2" width="3" height="79.2" fill="#e0553e"/>
<rect x="1009" y="314.1" width="1" height="38.6" fill="#6b6b6b"/>
<rect x="1007" y="320.4" width="5" height="7.2" fill="#1b5a38"/>
<rect x="1008" y="321.4" width="3" height="5.2" fill="#6aa884"/>
<rect x="1017" y="308.2" width="1" height="24.7" fill="#6b6b6b"/>
<rect x="1015" y="319.5" width="5" height="8.9" fill="#6a1a10"/>
<rect x="1016" y="320.5" width="3" height="6.9" fill="#e0553e"/>
<rect x="1025" y="303.8" width="1" height="30.7" fill="#6b6b6b"/>
<rect x="1023" y="312.1" width="5" height="15.5" fill="#1b5a38"/>
<rect x="1024" y="313.1" width="3" height="13.5" fill="#6aa884"/>
<rect x="1033" y="294.9" width="1" height="35.1" fill="#6b6b6b"/>
<rect x="1031" y="312.1" width="5" height="12.3" fill="#6a1a10"/>
<rect x="1032" y="313.1" width="3" height="10.3" fill="#e0553e"/>
<rect x="1042" y="311.1" width="1" height="26.8" fill="#6b6b6b"/>
<rect x="1040" y="325.4" width="5" height="2.2" fill="#6a1a10"/>
<rect x="1041" y="326.4" width="3" height="0.2" fill="#e0553e"/>
<rect x="1050" y="327.4" width="1" height="47.1" fill="#6b6b6b"/>
<rect x="1048" y="328.4" width="5" height="46.1" fill="#6a1a10"/>
<rect x="1049" y="329.4" width="3" height="44.1" fill="#e0553e"/>
<rect x="1058" y="336.9" width="1" height="37.7" fill="#6b6b6b"/>
<rect x="1056" y="354.4" width="5" height="20.2" fill="#1b5a38"/>
<rect x="1057" y="355.4" width="3" height="18.2" fill="#6aa884"/>
<rect x="1066" y="344.9" width="1" height="43.1" fill="#6b6b6b"/>
<rect x="1064" y="354" width="5" height="1" fill="#1b5a38"/>
<rect x="1074" y="340.9" width="1" height="41.2" fill="#6b6b6b"/>
<rect x="1072" y="352.4" width="5" height="7.3" fill="#6a1a10"/>
<rect x="1073" y="353.4" width="3" height="5.3" fill="#e0553e"/>
<rect x="1082" y="309.2" width="1" height="55.5" fill="#6b6b6b"/>
<rect x="1080" y="312.2" width="5" height="47.5" fill="#1b5a38"/>
<rect x="1081" y="313.2" width="3" height="45.5" fill="#6aa884"/>
<rect x="1091" y="307.2" width="1" height="18.8" fill="#6b6b6b"/>
<rect x="1089" y="311.2" width="5" height="12.3" fill="#6a1a10"/>
<rect x="1090" y="312.2" width="3" height="10.3" fill="#e0553e"/>
<rect x="1099" y="308.8" width="1" height="25.2" fill="#6b6b6b"/>
<rect x="1097" y="317.1" width="5" height="6.4" fill="#1b5a38"/>
<rect x="1098" y="318.1" width="3" height="4.4" fill="#6aa884"/>
<rect x="1107" y="261.7" width="1" height="57.0" fill="#6b6b6b"/>
<rect x="1105" y="263.3" width="5" height="54.2" fill="#1b5a38"/>
<rect x="1106" y="264.3" width="3" height="52.2" fill="#6aa884"/>
<rect x="1115" y="238.9" width="1" height="38.6" fill="#6b6b6b"/>
<rect x="1113" y="264.3" width="5" height="9.3" fill="#6a1a10"/>
<rect x="1114" y="265.3" width="3" height="7.3" fill="#e0553e"/>
<rect x="1123" y="260.1" width="1" height="21.8" fill="#6b6b6b"/>
<rect x="1121" y="270.0" width="5" height="2" fill="#1b5a38"/>
<rect x="1131" y="240.3" width="1" height="34.3" fill="#6b6b6b"/>
<rect x="1129" y="247.4" width="5" height="23.2" fill="#1b5a38"/>
<rect x="1130" y="248.4" width="3" height="21.2" fill="#6aa884"/>
<rect x="1140" y="186.3" width="1" height="68.8" fill="#6b6b6b"/>
<rect x="1138" y="192.5" width="5" height="55.7" fill="#1b5a38"/>
<rect x="1139" y="193.5" width="3" height="53.7" fill="#6aa884"/>
<rect x="1148" y="180.3" width="1" height="27.3" fill="#6b6b6b"/>
<rect x="1146" y="191.4" width="5" height="4.0" fill="#6a1a10"/>
<rect x="1147" y="192.4" width="3" height="2.0" fill="#e0553e"/>
<rect x="1156" y="85.1" width="1" height="115.3" fill="#6b6b6b"/>
<rect x="1154" y="91.2" width="5" height="104.2" fill="#1b5a38"/>
<rect x="1155" y="92.2" width="3" height="102.2" fill="#6aa884"/>
<rect x="1164" y="35.0" width="1" height="84.9" fill="#6b6b6b"/>
<rect x="1162" y="73.2" width="5" height="19.4" fill="#1b5a38"/>
<rect x="1163" y="74.2" width="3" height="17.4" fill="#6aa884"/>
<rect x="1172" y="36.5" width="1" height="76.2" fill="#6b6b6b"/>
<rect x="1170" y="65.3" width="5" height="9.3" fill="#1b5a38"/>
<rect x="1171" y="66.3" width="3" height="7.3" fill="#6aa884"/>
<rect x="1180" y="52.3" width="1" height="78.1" fill="#6b6b6b"/>
<rect x="1178" y="65.3" width="5" height="65.1" fill="#6a1a10"/>
<rect x="1179" y="66.3" width="3" height="63.1" fill="#e0553e"/>
<rect x="1189" y="119.2" width="1" height="48.4" fill="#6b6b6b"/>
<rect x="1187" y="130.3" width="5" height="35.3" fill="#6a1a10"/>
<rect x="1188" y="131.3" width="3" height="33.3" fill="#e0553e"/>
<rect x="1197" y="137.9" width="1" height="30.6" fill="#6b6b6b"/>
<rect x="1195" y="153.2" width="5" height="12.4" fill="#1b5a38"/>
<rect x="1196" y="154.2" width="3" height="10.4" fill="#6aa884"/>
<rect x="1205" y="71.3" width="1" height="82.2" fill="#6b6b6b"/>
<rect x="1203" y="83.2" width="5" height="70.3" fill="#1b5a38"/>
<rect x="1204" y="84.2" width="3" height="68.3" fill="#6aa884"/>
<rect x="1213" y="50.1" width="1" height="53.6" fill="#6b6b6b"/>
<rect x="1211" y="59.5" width="5" height="24.9" fill="#1b5a38"/>
<rect x="1212" y="60.5" width="3" height="22.9" fill="#6aa884"/>
<rect x="1221" y="47.3" width="1" height="36.4" fill="#6b6b6b"/>
<rect x="1219" y="60.2" width="5" height="5.1" fill="#6a1a10"/>
<rect x="1220" y="61.2" width="3" height="3.1" fill="#e0553e"/>
<rect x="1230" y="58.0" width="1" height="57.6" fill="#6b6b6b"/>
<rect x="1228" y="66.3" width="5" height="42.0" fill="#6a1a10"/>
<rect x="1229" y="67.3" width="3" height="40.0" fill="#e0553e"/>
<rect x="1238" y="76.0" width="1" height="84.7" fill="#6b6b6b"/>
<rect x="1236" y="109.5" width="5" height="42.1" fill="#6a1a10"/>
<rect x="1237" y="110.5" width="3" height="40.1" fill="#e0553e"/>
<rect x="1246" y="127.7" width="1" height="54.7" fill="#6b6b6b"/>
<rect x="1244" y="130.4" width="5" height="20.1" fill="#1b5a38"/>
<rect x="1245" y="131.4" width="3" height="18.1" fill="#6aa884"/>
<rect x="1254" y="123.8" width="1" height="80.7" fill="#6b6b6b"/>
<rect x="1252" y="134.1" width="5" height="66.5" fill="#6a1a10"/>
<rect x="1253" y="135.1" width="3" height="64.5" fill="#e0553e"/>
<rect x="1262" y="168.7" width="1" height="34.9" fill="#6b6b6b"/>
<rect x="1260" y="171.4" width="5" height="29.2" fill="#1b5a38"/>
<rect x="1261" y="172.4" width="3" height="27.2" fill="#6aa884"/>
<rect x="1270" y="98.8" width="1" height="72.9" fill="#6b6b6b"/>
<rect x="1268" y="102.0" width="5" height="69.7" fill="#1b5a38"/>
<rect x="1269" y="103.0" width="3" height="67.7" fill="#6aa884"/>
<rect x="1279" y="87.8" width="1" height="130.3" fill="#6b6b6b"/>
<rect x="1277" y="101.0" width="5" height="117.1" fill="#6a1a10"/>
<rect x="1278" y="102.0" width="3" height="115.1" fill="#e0553e"/>
<rect x="1287" y="183.7" width="1" height="33.7" fill="#6b6b6b"/>
<rect x="1285" y="186.4" width="5" height="31.0" fill="#1b5a38"/>
<rect x="1286" y="187.4" width="3" height="29.0" fill="#6aa884"/>
<rect x="1295" y="179.1" width="1" height="44.6" fill="#6b6b6b"/>
<rect x="1293" y="187.2" width="5" height="25.2" fill="#6a1a10"/>
<rect x="1294" y="188.2" width="3" height="23.2" fill="#e0553e"/>
<rect x="1303" y="158.1" width="1" height="57.2" fill="#6b6b6b"/>
<rect x="1301" y="189.4" width="5" height="23.0" fill="#1b5a38"/>
<rect x="1302" y="190.4" width="3" height="21.0" fill="#6aa884"/>
<rect x="1311" y="186.7" width="1" height="56.3" fill="#6b6b6b"/>
<rect x="1309" y="187.2" width="5" height="42.4" fill="#6a1a10"/>
<rect x="1310" y="188.2" width="3" height="40.4" fill="#e0553e"/>
<rect x="1319" y="195.3" width="1" height="39.1" fill="#6b6b6b"/>
<rect x="1317" y="197.2" width="5" height="32.4" fill="#1b5a38"/>
<rect x="1318" y="198.2" width="3" height="30.4" fill="#6aa884"/>
<rect x="1328" y="196.2" width="1" height="27.7" fill="#6b6b6b"/>
<rect x="1326" y="196.2" width="5" height="6.4" fill="#6a1a10"/>
<rect x="1327" y="197.2" width="3" height="4.4" fill="#e0553e"/>
<rect x="1336" y="190.1" width="1" height="39.7" fill="#6b6b6b"/>
<rect x="1334" y="198.2" width="5" height="4.4" fill="#1b5a38"/>
<rect x="1335" y="199.2" width="3" height="2.4" fill="#6aa884"/>
<rect x="1344" y="183.2" width="1" height="23.4" fill="#6b6b6b"/>
<rect x="1342" y="187.2" width="5" height="12.4" fill="#1b5a38"/>
<rect x="1343" y="188.2" width="3" height="10.4" fill="#6aa884"/>
<rect x="1352" y="129.3" width="1" height="58.3" fill="#6b6b6b"/>
<rect x="1350" y="133.2" width="5" height="54.4" fill="#1b5a38"/>
<rect x="1351" y="134.2" width="3" height="52.4" fill="#6aa884"/>
<rect x="1360" y="126.3" width="1" height="73.5" fill="#6b6b6b"/>
<rect x="1358" y="132.2" width="5" height="65.5" fill="#6a1a10"/>
<rect x="1359" y="133.2" width="3" height="63.5" fill="#e0553e"/>
<rect x="1368" y="187.2" width="1" height="19.4" fill="#6b6b6b"/>
<rect x="1366" y="197" width="5" height="1" fill="#6a1a10"/>
<rect x="1377" y="190.1" width="1" height="43.3" fill="#6b6b6b"/>
<rect x="1375" y="197.3" width="5" height="35.4" fill="#6a1a10"/>
<rect x="1376" y="198.3" width="3" height="33.4" fill="#e0553e"/>
<rect x="1385" y="222.0" width="1" height="26.6" fill="#6b6b6b"/>
<rect x="1383" y="233.3" width="5" height="7.2" fill="#6a1a10"/>
<rect x="1384" y="234.3" width="3" height="5.2" fill="#e0553e"/>
<rect x="1393" y="213.2" width="1" height="29.6" fill="#6b6b6b"/>
<rect x="1391" y="227.3" width="5" height="12.4" fill="#1b5a38"/>
<rect x="1392" y="228.3" width="3" height="10.4" fill="#6aa884"/>
<rect x="1401" y="212.1" width="1" height="25.8" fill="#6b6b6b"/>
<rect x="1399" y="217.4" width="5" height="11.3" fill="#1b5a38"/>
<rect x="1400" y="218.4" width="3" height="9.3" fill="#6aa884"/>
<line x1="4" y1="217.5" x2="1443" y2="217.5" stroke="#3d9a6a" stroke-width="1" stroke-dasharray="1 3"/>
</g>
<g clip-path="url(#ccci)">
<rect x="4" y="686.5" width="1438" height="31" fill="#2196f3" fill-opacity="0.1"/>
<line x1="4" y1="686.5" x2="1443" y2="686.5" stroke="#787b86" stroke-width="1" stroke-dasharray="5 6"/>
<line x1="4" y1="702.5" x2="1443" y2="702.5" stroke="#787b86" stroke-width="1" stroke-dasharray="5 6"/>
<line x1="4" y1="717.5" x2="1443" y2="717.5" stroke="#787b86" stroke-width="1" stroke-dasharray="5 6"/>
<polyline points="3.74,696.20 11.92,692.30 20.09,691.00 28.26,706.00 36.43,715.00 44.60,714.40 52.77,729.30 60.95,735.60 69.12,703.00 77.29,678.50 85.46,670.30 93.63,669.20 101.81,683.40 109.98,680.60 118.15,683.80 126.32,685.00 134.49,681.30 142.66,675.20 150.84,675.20 159.01,675.99 167.18,677.70 175.35,678.20 183.52,686.00 191.70,695.96 199.87,699.70 208.04,704.07 216.21,713.59 224.38,721.74 232.55,722.09 240.73,713.25 248.90,701.66 257.07,703.28 265.24,706.24 273.41,703.60 281.58,700.53 289.76,698.33 297.93,699.05 306.10,700.60 314.27,698.97 322.44,697.90 330.62,698.32 338.79,706.32 346.96,704.74 355.13,703.88 363.30,719.96 371.47,723.16 379.65,716.38 387.82,720.21 395.99,720.22 404.16,722.27 412.33,721.21 420.51,712.34 428.68,709.77 436.85,713.15 445.02,717.91 453.19,717.18 461.36,716.39 469.54,724.53 477.71,721.77 485.88,713.01 494.05,706.18 502.22,705.80 510.40,695.26 518.57,689.64 526.74,694.75 534.91,696.60 543.08,705.28 551.25,719.62 559.43,719.39 567.60,721.36 575.77,712.99 583.94,707.81 592.11,698.33 600.29,715.97 608.46,718.29 616.63,696.30 624.80,680.06 632.97,685.74 641.14,690.55 649.32,694.63 657.49,697.55 665.66,698.53 673.83,705.90 682.00,709.45 690.17,712.72 698.35,704.80 706.52,689.17 714.69,669.26 722.86,668.54 731.03,669.58 739.21,670.14 747.38,674.61 755.55,678.84 763.72,684.15 771.89,680.54 780.06,680.81 788.24,680.80 796.41,683.78 804.58,687.49 812.75,684.56 820.92,689.03 829.10,694.24 837.27,694.44 845.44,697.14 853.61,699.06 861.78,695.01 869.95,691.13 878.13,688.92 886.30,669.37 894.47,651.24 902.64,660.58 910.81,669.11 918.99,670.65 927.16,673.19 935.33,678.74 943.50,680.67 951.67,681.95 959.84,684.79 968.02,687.25 976.19,688.56 984.36,689.77 992.53,689.07 1000.70,696.42 1008.88,702.18 1017.05,702.53 1025.22,702.79 1033.39,704.62 1041.56,709.86 1049.73,722.39 1057.91,720.71 1066.08,721.80 1074.25,719.99 1082.42,709.45 1090.59,706.04 1098.76,705.87 1106.94,693.66 1115.11,687.69 1123.28,689.50 1131.45,684.39 1139.62,673.93 1147.80,673.22 1155.97,663.99 1164.14,665.56 1172.31,672.24 1180.48,681.06 1188.65,689.01 1196.83,690.77 1205.00,686.76 1213.17,685.13 1221.34,686.14 1229.51,690.43 1237.69,695.44 1245.86,698.46 1254.03,703.76 1262.20,706.17 1270.37,696.87 1278.54,708.44 1286.72,714.95 1294.89,718.68 1303.06,714.95 1311.23,722.32 1319.40,717.58 1327.58,716.07 1335.75,714.56 1343.92,710.21 1352.09,699.21 1360.26,705.30 1368.43,710.46 1376.61,716.32 1384.78,722.30 1392.95,718.38 1401.12,715.36" fill="none" stroke="#3b6ff5" stroke-width="1.3" stroke-linejoin="round"/>
</g>
<g clip-path="url(#catr)">
<polyline points="3.74,792.29 11.92,791.52 20.09,793.12 28.26,792.54 36.43,792.61 44.60,792.17 52.77,792.27 60.95,792.66 69.12,790.62 77.29,790.62 85.46,789.35 93.63,789.97 101.81,790.08 109.98,789.84 118.15,790.85 126.32,792.61 134.49,791.49 142.66,791.26 150.84,791.70 159.01,792.72 167.18,793.85 175.35,794.45 183.52,788.97 191.70,788.73 199.87,789.46 208.04,790.42 216.21,788.42 224.38,789.70 232.55,790.46 240.73,786.50 248.90,787.60 257.07,788.09 265.24,789.39 273.41,790.46 281.58,791.00 289.76,792.05 297.93,792.30 306.10,795.21 314.27,796.09 322.44,796.11 330.62,795.92 338.79,796.27 346.96,798.96 355.13,798.94 363.30,796.61 371.47,797.34 379.65,795.94 387.82,796.69 395.99,796.78 404.16,797.78 412.33,796.59 420.51,794.88 428.68,796.56 436.85,797.31 445.02,797.60 453.19,798.48 461.36,799.05 469.54,797.70 477.71,798.32 485.88,797.59 494.05,798.08 502.22,799.24 510.40,799.31 518.57,799.95 526.74,799.49 534.91,798.04 543.08,796.09 551.25,796.20 559.43,797.75 567.60,798.92 575.77,798.86 583.94,799.54 592.11,798.99 600.29,796.25 608.46,796.15 616.63,795.03 624.80,794.02 632.97,794.21 641.14,795.72 649.32,796.26 657.49,796.64 665.66,796.96 673.83,796.95 682.00,798.05 690.17,799.47 698.35,799.51 706.52,797.89 714.69,795.51 722.86,795.08 731.03,793.89 739.21,794.21 747.38,794.69 755.55,796.07 763.72,795.22 771.89,792.76 780.06,793.55 788.24,792.82 796.41,793.84 804.58,794.44 812.75,792.38 820.92,789.17 829.10,789.48 837.27,791.00 845.44,791.37 853.61,792.63 861.78,792.30 869.95,795.10 878.13,794.45 886.30,791.21 894.47,788.34 902.64,788.09 910.81,784.80 918.99,781.59 927.16,781.57 935.33,780.00 943.50,779.91 951.67,772.91 959.84,770.31 968.02,768.93 976.19,769.48 984.36,771.41 992.53,771.28 1000.70,767.03 1008.88,767.92 1017.05,770.17 1025.22,771.64 1033.39,772.55 1041.56,774.26 1049.73,773.76 1057.91,774.26 1066.08,774.17 1074.25,774.28 1082.42,772.92 1090.59,775.41 1098.76,777.07 1106.94,775.36 1115.11,775.65 1123.28,777.64 1131.45,778.21 1139.62,775.21 1147.80,776.67 1155.97,769.01 1164.14,765.02 1172.31,762.20 1180.48,759.38 1188.65,759.81 1196.83,762.04 1205.00,758.82 1213.17,758.75 1221.34,760.46 1229.51,759.87 1237.69,756.55 1245.86,756.53 1254.03,753.86 1262.20,756.07 1270.37,754.22 1278.54,746.63 1286.72,749.41 1294.89,750.94 1303.06,751.07 1311.23,751.29 1319.40,753.25 1327.58,756.24 1335.75,757.78 1343.92,760.89 1352.09,760.20 1360.26,758.00 1368.43,761.50 1376.61,762.30 1384.78,764.75 1392.95,766.72 1401.12,768.94" fill="none" stroke="#c0303a" stroke-width="1.2" stroke-linejoin="round"/>
</g>
<rect x="1443" y="3" width="1" height="829" fill="#505050"/>
<rect x="4" y="804" width="1505" height="1" fill="#505050"/>
<rect x="8" y="6" width="640" height="25" fill="#fff" fill-opacity="0.0"/>
<circle cx="22" cy="18.9" r="9" fill="#a9a7ba"/>
<path d="M20 15.3h4.3l1.5 2.6h-7.3z M15.6 21.9l1.8-3.2h4.4l-1.9 3.2z M22.1 18.7h4.6l1.8 3.2h-6.4z" fill="#fff"/>
<text x="35.4" y="24.9" font-size="14.5" fill="#4f4f4f" textLength="250.6" lengthAdjust="spacingAndGlyphs">CFDs on Silver (US$ / OZ) · 1D · TVC</text>
<circle cx="310.8" cy="18.7" r="8.6" fill="#dbefea"/>
<circle cx="310.8" cy="18.7" r="4.3" fill="#0e8c72"/>
<text x="336.0" y="23.9" font-size="12.3" fill="#525252" textLength="8.4" lengthAdjust="spacingAndGlyphs">O</text>
<text x="346.2" y="23.9" font-size="12.3" fill="#1e6b44" textLength="38.6" lengthAdjust="spacingAndGlyphs">28.968</text>
<text x="391.5" y="23.9" font-size="12.3" fill="#525252" textLength="7.5" lengthAdjust="spacingAndGlyphs">H</text>
<text x="400.4" y="23.9" font-size="12.3" fill="#1e6b44" textLength="38.8" lengthAdjust="spacingAndGlyphs">29.254</text>
<text x="445.9" y="23.9" font-size="12.3" fill="#525252" textLength="6.5" lengthAdjust="spacingAndGlyphs">L</text>
<text x="453.0" y="23.9" font-size="12.3" fill="#1e6b44" textLength="38.5" lengthAdjust="spacingAndGlyphs">28.782</text>
<text x="497.6" y="23.9" font-size="12.3" fill="#525252" textLength="7.0" lengthAdjust="spacingAndGlyphs">C</text>
<text x="506.5" y="23.9" font-size="12.3" fill="#1e6b44" textLength="38.8" lengthAdjust="spacingAndGlyphs">29.164</text>
<text x="551.6" y="23.9" font-size="12.3" fill="#1e6b44" textLength="38.3" lengthAdjust="spacingAndGlyphs">+0.174</text>
<text x="595.0" y="23.9" font-size="12.3" fill="#1e6b44" textLength="48.2" lengthAdjust="spacingAndGlyphs">(+0.60%)</text>
<rect x="8" y="33" width="146" height="28" fill="#fff" fill-opacity="0.5"/>
<rect x="12.5" y="35.5" width="53" height="23" rx="3" fill="#fff" stroke="#f23645" stroke-width="1"/>
<rect x="97.5" y="35.5" width="53" height="23" rx="3" fill="#fff" stroke="#2962ff" stroke-width="1"/>
<text x="20.0" y="51.9" font-size="11.4" fill="#f23645" textLength="30.2" lengthAdjust="spacingAndGlyphs">29.16</text>
<text x="51.0" y="49.6" font-size="9.3" fill="#f23645" textLength="6.3" lengthAdjust="spacingAndGlyphs">8</text>
<text x="105.8" y="51.9" font-size="11.4" fill="#2962ff" textLength="31.6" lengthAdjust="spacingAndGlyphs">29.18</text>
<text x="137.6" y="49.6" font-size="9.3" fill="#2962ff" textLength="6.0" lengthAdjust="spacingAndGlyphs">6</text>
<text x="74.2" y="52.0" font-size="12.3" fill="#525252" textLength="15.6" lengthAdjust="spacingAndGlyphs">1.8</text>
<text x="13.0" y="80.2" font-size="12.3" fill="#525252" textLength="74.1" lengthAdjust="spacingAndGlyphs">SMA 20 close</text>
<text x="95.4" y="80.2" font-size="12.3" fill="#f23645" textLength="38.7" lengthAdjust="spacingAndGlyphs">29.607</text>
<text x="13.0" y="104.0" font-size="12.3" fill="#525252" textLength="74.1" lengthAdjust="spacingAndGlyphs">SMA 50 close</text>
<text x="95.4" y="104.0" font-size="12.3" fill="#2b2bff" textLength="38.7" lengthAdjust="spacingAndGlyphs">29.196</text>
<text x="13.0" y="127.8" font-size="12.3" fill="#525252" textLength="80.6" lengthAdjust="spacingAndGlyphs">SMA 200 close</text>
<text x="102.5" y="127.8" font-size="12.3" fill="#131313" textLength="38.9" lengthAdjust="spacingAndGlyphs">25.090</text>
<rect x="13.5" y="137.5" width="27.5" height="19.5" rx="2.5" fill="#fff" stroke="#d6d9e0" stroke-width="1"/>
<path d="M23.6 149.4l3.6-3.6 3.6 3.6" fill="none" stroke="#131722" stroke-width="1.5"/>
<text x="13.0" y="667.9" font-size="12.3" fill="#525252" textLength="101.6" lengthAdjust="spacingAndGlyphs">CCI 20 hlc3 SMA 5</text>
<text x="123.5" y="667.9" font-size="12.3" fill="#2962ff" textLength="37.9" lengthAdjust="spacingAndGlyphs">−88.22</text>
<rect x="8" y="750" width="117" height="18" fill="#fff" fill-opacity="0.6"/>
<text x="13.0" y="763.9" font-size="12.3" fill="#525252" textLength="67.7" lengthAdjust="spacingAndGlyphs">ATR 14 RMA</text>
<text x="88.6" y="763.9" font-size="12.3" fill="#c62828" textLength="31.6" lengthAdjust="spacingAndGlyphs">0.855</text>
<g transform="translate(15.9 771.7) scale(0.833)" fill="#131722"><path d="M14 22H7V11H0V4h14v18zM28 22h-8l7.5-18h8L28 22z"/><circle cx="20" cy="8" r="3.3"/></g>
<text x="1452.0" y="67.3" font-size="12.3" fill="#4a4a4a" textLength="36.0" lengthAdjust="spacingAndGlyphs">32.000</text>
<text x="1452.0" y="121.7" font-size="12.3" fill="#4a4a4a" textLength="36.0" lengthAdjust="spacingAndGlyphs">31.000</text>
<text x="1452.0" y="176.1" font-size="12.3" fill="#4a4a4a" textLength="36.0" lengthAdjust="spacingAndGlyphs">30.000</text>
<text x="1452.0" y="230.5" font-size="12.3" fill="#4a4a4a" textLength="36.0" lengthAdjust="spacingAndGlyphs">29.000</text>
<text x="1452.0" y="284.9" font-size="12.3" fill="#4a4a4a" textLength="36.0" lengthAdjust="spacingAndGlyphs">28.000</text>
<text x="1452.0" y="339.3" font-size="12.3" fill="#4a4a4a" textLength="36.0" lengthAdjust="spacingAndGlyphs">27.000</text>
<text x="1452.0" y="448.1" font-size="12.3" fill="#4a4a4a" textLength="36.0" lengthAdjust="spacingAndGlyphs">25.000</text>
<text x="1452.0" y="502.5" font-size="12.3" fill="#4a4a4a" textLength="36.0" lengthAdjust="spacingAndGlyphs">24.000</text>
<text x="1452.0" y="556.9" font-size="12.3" fill="#4a4a4a" textLength="36.0" lengthAdjust="spacingAndGlyphs">23.000</text>
<text x="1452.0" y="674.8" font-size="12.3" fill="#4a4a4a" textLength="35.7" lengthAdjust="spacingAndGlyphs">200.00</text>
<text x="1452.0" y="705.9" font-size="12.3" fill="#4a4a4a" textLength="23.5" lengthAdjust="spacingAndGlyphs">0.00</text>
<text x="1452.0" y="736.8" font-size="12.3" fill="#4a4a4a" textLength="44.5" lengthAdjust="spacingAndGlyphs">−200.00</text>
<text x="1452.0" y="761.3" font-size="12.3" fill="#4a4a4a" textLength="29.5" lengthAdjust="spacingAndGlyphs">1.000</text>
<text x="1452.0" y="800.5" font-size="12.3" fill="#4a4a4a" textLength="29.5" lengthAdjust="spacingAndGlyphs">0.500</text>
<path d="M1443 28.7h48a2 2 0 0 1 2 2v13a2 2 0 0 1 -2 2h-48z" fill="#000"/>
<text x="1451.8" y="41.9" font-size="13" fill="#fff" font-weight="700" textLength="36.2" lengthAdjust="spacingAndGlyphs">32.470</text>
<path d="M1443 175h48a2 2 0 0 1 2 2v13a2 2 0 0 1 -2 2h-48z" fill="#000"/>
<text x="1451.8" y="188.2" font-size="13" fill="#fff" font-weight="700" textLength="36.2" lengthAdjust="spacingAndGlyphs">29.798</text>
<path d="M1443 385h48a2 2 0 0 1 2 2v13a2 2 0 0 1 -2 2h-48z" fill="#000"/>
<text x="1451.8" y="398.2" font-size="13" fill="#fff" font-weight="700" textLength="36.2" lengthAdjust="spacingAndGlyphs">25.927</text>
<path d="M1443 600.5h48a2 2 0 0 1 2 2v13a2 2 0 0 1 -2 2h-48z" fill="#000"/>
<text x="1451.8" y="613.7" font-size="13" fill="#fff" font-weight="700" textLength="36.2" lengthAdjust="spacingAndGlyphs">21.949</text>
<path d="M1443 209.3h58.5a2.5 2.5 0 0 1 2.5 2.5v11.4a2.5 2.5 0 0 1 -2.5 2.5h-58.5z" fill="#6aa884"/>
<text x="1452.2" y="221.7" font-size="12.3" fill="#e6f2ea" textLength="46.0" lengthAdjust="spacingAndGlyphs">14:23:46</text>
<rect x="1444" y="3" width="65" height="34" fill="#fff"/>
<rect x="1447.5" y="7.5" width="57" height="25" rx="4.5" fill="#fff" stroke="#e0e3eb" stroke-width="1"/>
<text x="1451.7" y="24.4" font-size="12.3" fill="#131722" textLength="20.5" lengthAdjust="spacingAndGlyphs">USD</text>
<path d="M1495.4 18.3l2.8 2.8 2.8-2.8" fill="none" stroke="#131722" stroke-width="1.4"/>
<text x="77.3" y="822.2" font-size="12.5" fill="#4a4a4a" text-anchor="middle" textLength="12.2" lengthAdjust="spacingAndGlyphs">15</text>
<text x="175.4" y="822.2" font-size="12.5" fill="#4a4a4a" text-anchor="middle" textLength="20.0" lengthAdjust="spacingAndGlyphs">Dec</text>
<text x="265.2" y="822.2" font-size="12.5" fill="#4a4a4a" text-anchor="middle" textLength="12.2" lengthAdjust="spacingAndGlyphs">18</text>
<text x="347.0" y="822.2" font-size="12.5" fill="#333" font-weight="700" text-anchor="middle" textLength="28.2" lengthAdjust="spacingAndGlyphs">2024</text>
<text x="428.7" y="822.2" font-size="12.5" fill="#4a4a4a" text-anchor="middle" textLength="12.2" lengthAdjust="spacingAndGlyphs">15</text>
<text x="534.9" y="822.2" font-size="12.5" fill="#4a4a4a" text-anchor="middle" textLength="20.0" lengthAdjust="spacingAndGlyphs">Feb</text>
<text x="616.6" y="822.2" font-size="12.5" fill="#4a4a4a" text-anchor="middle" textLength="12.2" lengthAdjust="spacingAndGlyphs">15</text>
<text x="706.5" y="822.2" font-size="12.5" fill="#4a4a4a" text-anchor="middle" textLength="20.0" lengthAdjust="spacingAndGlyphs">Mar</text>
<text x="796.4" y="822.2" font-size="12.5" fill="#4a4a4a" text-anchor="middle" textLength="12.2" lengthAdjust="spacingAndGlyphs">18</text>
<text x="878.1" y="822.2" font-size="12.5" fill="#4a4a4a" text-anchor="middle" textLength="20.0" lengthAdjust="spacingAndGlyphs">Apr</text>
<text x="959.8" y="822.2" font-size="12.5" fill="#4a4a4a" text-anchor="middle" textLength="12.2" lengthAdjust="spacingAndGlyphs">15</text>
<text x="1057.9" y="822.2" font-size="12.5" fill="#4a4a4a" text-anchor="middle" textLength="20.0" lengthAdjust="spacingAndGlyphs">May</text>
<text x="1164.1" y="822.2" font-size="12.5" fill="#4a4a4a" text-anchor="middle" textLength="12.2" lengthAdjust="spacingAndGlyphs">20</text>
<text x="1245.9" y="822.2" font-size="12.5" fill="#4a4a4a" text-anchor="middle" textLength="20.0" lengthAdjust="spacingAndGlyphs">Jun</text>
<text x="1327.6" y="822.2" font-size="12.5" fill="#4a4a4a" text-anchor="middle" textLength="12.2" lengthAdjust="spacingAndGlyphs">17</text>
<text x="1409.3" y="822.2" font-size="12.5" fill="#4a4a4a" text-anchor="middle" textLength="20.0" lengthAdjust="spacingAndGlyphs">Jul</text>
<path d="M1472.9 812.4h7.2l3.6 6.1-3.6 6.1h-7.2l-3.6-6.1z" fill="#fff" stroke="#131722" stroke-width="1.1"/>
<circle cx="1476.4" cy="818.5" r="2" fill="none" stroke="#131722" stroke-width="1.1"/>
<rect x="1389" y="622" width="25" height="20" fill="#fff"/>
<path d="M1404.4 624.2 A9.7 9.7 0 1 0 1410.8 630.4" fill="none" stroke="#9c27b0" stroke-width="1.6"/>
<circle cx="1408.4" cy="626.5" r="2.6" fill="#f23645"/>
<path d="M1404.1 628.6 L1398.1 633.8 L1404.8 633.1 L1398.8 638.6" fill="none" stroke="#9c27b0" stroke-width="1.6" stroke-linejoin="round" stroke-linecap="round"/>
<g filter="url(#wsh)" font-family="'Noto Sans CJK SC','WenQuanYi Zen Hei',sans-serif" font-size="60" font-weight="900" fill="#fff">
<text x="1295" y="790" text-anchor="middle" transform="translate(1295 770) skewX(-16) translate(-1295 -770)">海</text>
<text x="1356" y="790" text-anchor="middle" transform="translate(1356 770) skewX(-16) translate(-1356 -770)">马</text>
<text x="1415" y="790" text-anchor="middle" transform="translate(1415 770) skewX(-16) translate(-1415 -770)">财</text>
<text x="1477" y="790" text-anchor="middle" transform="translate(1477 770) skewX(-16) translate(-1477 -770)">经</text>
</g>
</svg>
</div></body></html>
